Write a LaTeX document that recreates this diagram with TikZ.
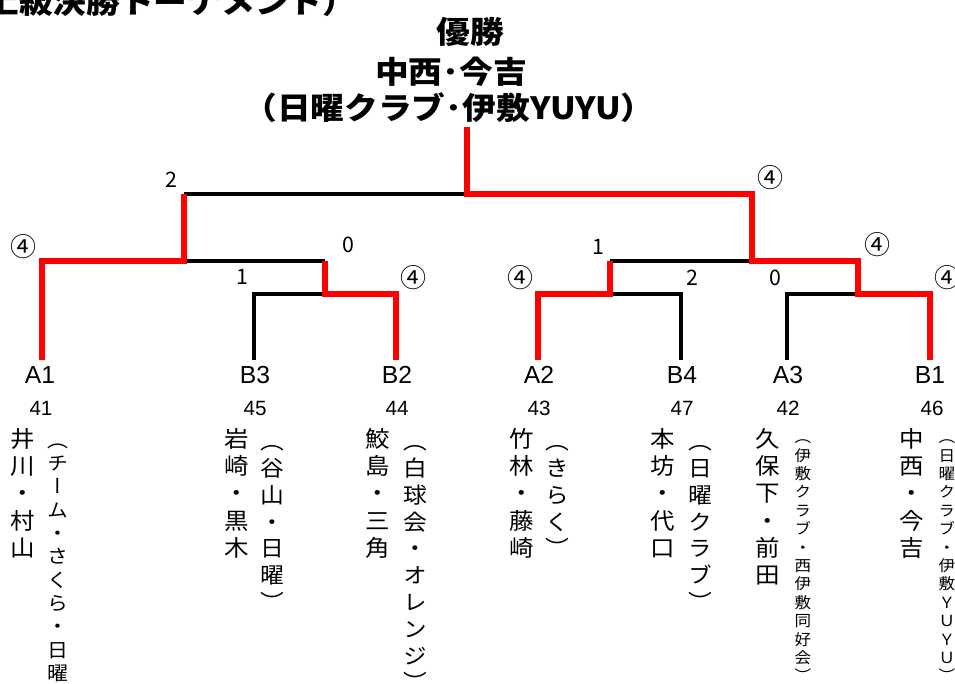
\documentclass[tikz,border=0pt]{standalone}
\usepackage{fontspec}
\setmainfont{Noto Sans CJK JP}
\newfontfamily\tatefont[RawFeature=+vert]{Noto Sans CJK JP}
\newfontfamily\arialfont{Liberation Sans}
% senkrechte Schrift
\newcommand\tate[1]{\vbox{\lineskiplimit=-\maxdimen\tateloop#1\relax}}
\def\tateloop#1{\ifx\relax#1\else\hbox to 1em{\hss\vrule height .88em depth .12em width 0pt\relax#1\hss}\expandafter\tateloop\fi}
\tikzset{
	sieg/.style={red, line width=5.2pt},
	verlust/.style={black, line width=2.3pt},
	kopf/.style={inner sep=0, xscale=1.1, font=\bfseries\fontsize{23}{24}\selectfont},
	kennung/.style={inner sep=0, font=\arialfont\fontsize{18.5}{20}\selectfont},
	nummer/.style={inner sep=0, font=\arialfont\fontsize{15.5}{16}\selectfont},
	punkte/.style={inner sep=0, font=\fontsize{16}{17}\selectfont},
	kreis/.style={inner sep=0, font=\fontsize{19.5}{20}\selectfont},
	spieler/.style={anchor=north, inner sep=0, xscale=1.08, font=\tatefont\fontsize{17}{20.5}\selectfont},
	vereinL/.style={anchor=north, inner sep=0, xscale=1.08, font=\tatefont\fontsize{16.5}{20.1}\selectfont},
	vereinM/.style={anchor=north, inner sep=0, xscale=1.08, font=\tatefont\fontsize{14.5}{17.5}\selectfont},
	vereinS/.style={anchor=north, inner sep=0, xscale=1.08, font=\tatefont\fontsize{11.5}{13.8}\selectfont}
}
\begin{document}
\begin{tikzpicture}[x=0.75pt, y=-0.75pt]
		\useasboundingbox (0,0) rectangle (955,683);
		% Titel
		\node[kopf, anchor=base west] (titel) at (-15,13) {上級決勝トーナメント）};
		\node[kopf] (yusho) at (470,32) {優勝};
		\node[kopf] (sieger) at (451,72) {中西･今吉};
		\node[kopf] (siegerverein) at (449,108) {（日曜クラブ･伊敷YUYU）};
		% Koordinaten
		\coordinate (ta1) at (42,360);
		\coordinate (tb3) at (254,360);
		\coordinate (tb2) at (396,360);
		\coordinate (ta2) at (538,360);
		\coordinate (tb4) at (681,360);
		\coordinate (ta3) at (787,360);
		\coordinate (tb1) at (930,360);
		\coordinate (m1) at (325,294);
		\coordinate (m2) at (184,261);
		\coordinate (m3) at (610,294);
		\coordinate (m4) at (858,294);
		\coordinate (m5) at (752,261);
		\coordinate (fin) at (467,194);
		\coordinate (spitze) at (467,127);
		% Verlierer
		\draw[verlust] (tb3) |- (m1);
		\draw[verlust] (m1 |- m2) -- (m2);
		\draw[verlust] (m2 |- fin) -- (fin);
		\draw[verlust] (tb4) |- (m3);
		\draw[verlust] (m3 |- m5) -- (m5);
		\draw[verlust] (ta3) |- (m4);
		% Sieger
		\draw[sieg] (ta1) |- (m2) -- (m2 |- fin);
		\draw[sieg] (tb2) |- (m1) -- (m1 |- m2);
		\draw[sieg] (ta2) |- (m3) -- (m3 |- m5);
		\draw[sieg] (tb1) |- (m4) |- (m5) |- (fin) -- (spitze);
		% Ergebnisse
		\node[punkte] (p-fin-l) at (171,180) {2};
		\node[kreis] (p-fin-r) at (770,178) {④};
		\node[kreis] (p-m2-l) at (23,247) {④};
		\node[punkte] (p-m2-r) at (348,245) {0};
		\node[punkte] (p-m1-l) at (242,277) {1};
		\node[kreis] (p-m1-r) at (413,278) {④};
		\node[punkte] (p-m5-l) at (598,247) {1};
		\node[kreis] (p-m5-r) at (877,245) {④};
		\node[kreis] (p-m3-l) at (520,278) {④};
		\node[punkte] (p-m3-r) at (692,278) {2};
		\node[punkte] (p-m4-l) at (775,278) {0};
		\node[kreis] (p-m4-r) at (947,278) {④};
		% Mannschaften
		\node[kennung] (a1) at (40,375) {A1};
		\node[kennung] (b3) at (255,375) {B3};
		\node[kennung] (b2) at (397,375) {B2};
		\node[kennung] (a2) at (539,375) {A2};
		\node[kennung] (b4) at (682,375) {B4};
		\node[kennung] (a3) at (788,375) {A3};
		\node[kennung] (b1) at (930,375) {B1};
		\node[nummer] (n-a1) at (41,408) {41};
		\node[nummer] (n-b3) at (255,408) {45};
		\node[nummer] (n-b2) at (397,408) {44};
		\node[nummer] (n-a2) at (539,408) {43};
		\node[nummer] (n-b4) at (682,408) {47};
		\node[nummer] (n-a3) at (788,408) {42};
		\node[nummer] (n-b1) at (932,408) {46};
		% Namen
		\node[spieler] (s-a1) at (23,427) {\tate{井川・村山}};
		\node[vereinM] (v-a1) at (58,430) {\tate{︵チーム・さくら・日曜︶}};
		\node[spieler] (s-b3) at (237,427) {\tate{岩崎・黒木}};
		\node[vereinL] (v-b3) at (272,430) {\tate{︵谷山・日曜︶}};
		\node[spieler] (s-b2) at (378,427) {\tate{鮫島・三角}};
		\node[vereinL] (v-b2) at (415,430) {\tate{︵白球会・オレンジ︶}};
		\node[spieler] (s-a2) at (522,427) {\tate{竹林・藤崎}};
		\node[vereinL] (v-a2) at (557,430) {\tate{︵きらく︶}};
		\node[spieler] (s-b4) at (663,427) {\tate{本坊・代口}};
		\node[vereinL] (v-b4) at (700,430) {\tate{︵日曜クラブ︶}};
		\node[spieler] (s-a3) at (768,427) {\tate{久保下・前田}};
		\node[vereinS] (v-a3) at (803,429) {\tate{︵伊敷クラブ・西伊敷同好会︶}};
		\node[spieler] (s-b1) at (912,427) {\tate{中西・今吉}};
		\node[vereinS] (v-b1) at (947,429) {\tate{︵日曜クラブ・伊敷ＹＵＹＵ︶}};
	\end{tikzpicture}
\end{document}
